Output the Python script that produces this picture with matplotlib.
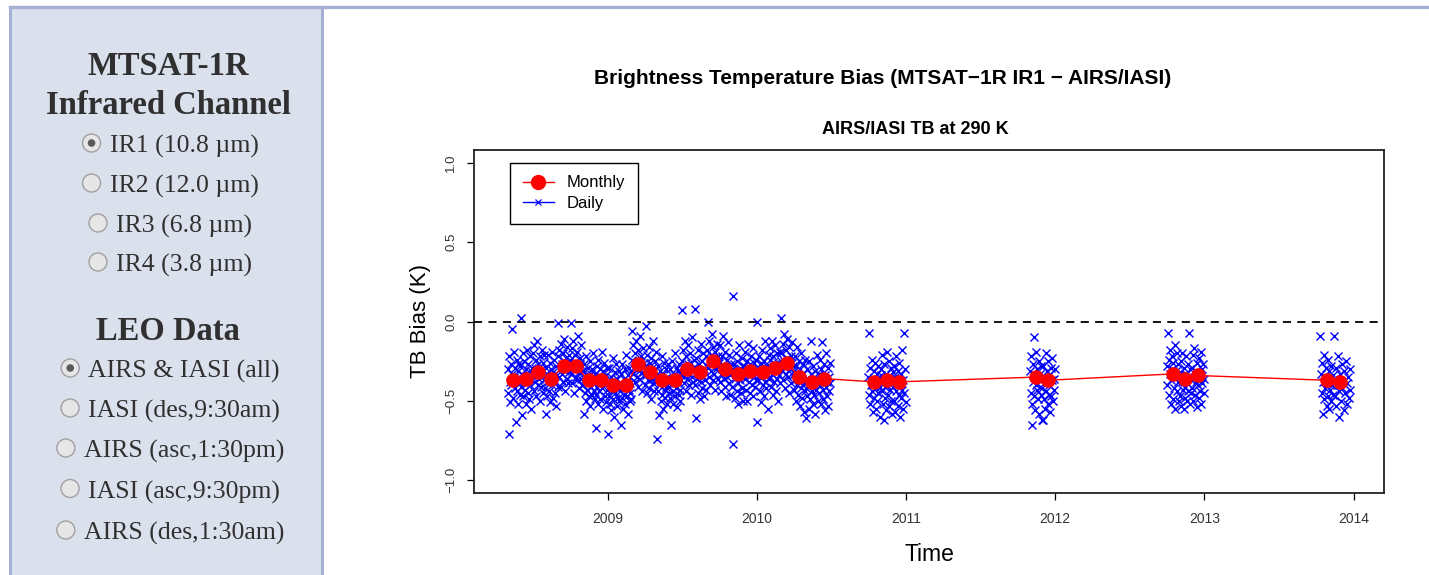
import numpy as np
import pandas as pd
import matplotlib
matplotlib.use('Agg')
import matplotlib.pyplot as plt
import matplotlib.dates as mdates
from matplotlib.lines import Line2D
from matplotlib.patches import Circle, Rectangle

# ---------------- data ----------------
# monthly mean TB bias (K)
monthly_bias = [-0.37, -0.36, -0.32, -0.36, -0.28, -0.28, -0.37, -0.37, -0.40, -0.40,
                -0.27, -0.32, -0.37, -0.37, -0.30, -0.32, -0.25, -0.30, -0.33, -0.31,
                -0.32, -0.29, -0.26, -0.35, -0.38, -0.36,
                -0.38, -0.37, -0.38, -0.35, -0.37, -0.33, -0.36, -0.34, -0.37, -0.38]
monthly_dates = (list(pd.date_range('2008-05-01', '2010-06-01', freq='MS') + pd.Timedelta(days=14))
                 + list(pd.to_datetime(['2010-10-15', '2010-11-15', '2010-12-15', '2011-11-15',
                                        '2011-12-15', '2012-10-15', '2012-11-15', '2012-12-15',
                                        '2013-10-27', '2013-11-29'])))

# daily data, one block per month (start/end date), values in 0.01 K
block_start = (list(pd.date_range('2008-05-01', '2010-06-01', freq='MS'))
               + list(pd.to_datetime(['2010-10-01', '2010-11-01', '2010-12-01', '2011-11-01',
                                      '2011-12-01', '2012-10-01', '2012-11-01', '2012-12-01',
                                      '2013-10-12', '2013-11-13'])))
block_end = (list(pd.date_range('2008-05-31', '2010-06-30', freq='ME'))
             + list(pd.to_datetime(['2010-10-31', '2010-11-30', '2010-12-31', '2011-11-30',
                                    '2011-12-31', '2012-10-31', '2012-11-30', '2012-12-31',
                                    '2013-11-12', '2013-12-24'])))
daily_bias = [
    [-30, -45, -71, -22, -38, -51, -27, -40, -33, -5, -48, -35, -19, -42, -29, -63, -36, -24, -44, -31, -52, -26, -39, -46],
    [-28, 2, -41, -59, -33, -20, -47, -37, -25, -43, -30, -52, -18, -39, -45, -27, -34, -49, -22, -40, -31, -55, -36, -29],
    [-20, -35, -44, -15, -29, -38, -24, -47, -31, -12, -40, -27, -36, -50, -22, -33, -41, -18, -30, -45, -26, -37, -21, -34],
    [-42, -29, -58, -33, -47, -21, -38, -44, -26, -51, -35, -30, -40, -19, -48, -32, -37, -24, -45, -39, -28, -53, -34, -41],
    [-1, -22, -35, -18, -30, -41, -14, -27, -33, -20, -38, -25, -11, -31, -44, -23, -29, -36, -16, -26, -39, -21, -32, -28],
    [-24, -1, -33, -17, -39, -28, -12, -30, -45, -21, -35, -26, -19, -37, -29, -9, -32, -42, -23, -27, -36, -15, -31, -40],
    [-40, -31, -58, -27, -45, -36, -50, -22, -38, -43, -29, -47, -34, -53, -25, -41, -33, -46, -30, -39, -20, -44, -35, -49],
    [-33, -46, -67, -28, -41, -52, -24, -38, -44, -30, -49, -35, -19, -42, -55, -31, -37, -26, -47, -40, -34, -51, -29, -43],
    [-71, -38, -47, -29, -52, -41, -35, -56, -44, -23, -49, -37, -60, -32, -45, -40, -27, -53, -36, -48, -42, -31, -50, -39],
    [-44, -33, -65, -48, -27, -40, -55, -36, -46, -30, -52, -41, -21, -47, -38, -58, -34, -43, -29, -50, -39, -45, -31, -49],
    [-6, -24, -33, -15, -29, -38, -20, -27, -12, -35, -30, -18, -41, -25, -31, -9, -36, -22, -28, -44, -17, -32, -26, -34],
    [-28, -40, -3, -34, -21, -45, -30, -37, -16, -42, -26, -33, -49, -23, -36, -29, -12, -39, -31, -44, -25, -35, -19, -38],
    [-74, -35, -44, -28, -59, -40, -31, -50, -37, -22, -46, -33, -55, -38, -26, -43, -48, -30, -41, -35, -52, -27, -39, -45],
    [-41, -30, -48, -65, -36, -25, -44, -52, -33, -39, -20, -47, -35, -42, -29, -54, -38, -31, -46, -27, -43, -50, -34, -37],
    [-25, 7, -34, -18, -39, -28, -12, -31, -44, -22, -36, -27, -15, -40, -30, -33, -20, -46, -26, -35, -10, -29, -38, -24],
    [-29, -40, 8, -61, -23, -36, -45, -18, -33, -27, -49, -31, -14, -38, -42, -25, -35, -20, -30, -47, -37, -22, -43, -28],
    [-18, 0, -29, -35, -12, -24, -40, -21, -31, -8, -27, -37, -16, -26, -33, -19, -43, -23, -30, -14, -28, -36, -22, -25],
    [-26, -38, -15, -33, -44, -22, -30, -9, -36, -28, -41, -19, -32, -47, -24, -35, -13, -29, -39, -21, -34, -46, -27, -31],
    [-30, -41, 16, -77, -27, -36, -48, -20, -33, -44, -25, -39, -52, -31, -15, -37, -29, -45, -34, -23, -42, -28, -50, -35],
    [-28, -36, -19, -43, -31, -25, -50, -33, -14, -38, -27, -45, -22, -34, -40, -30, -17, -47, -26, -35, -32, -41, -24, -37],
    [0, -63, -29, -37, -22, -44, -33, -26, -51, -35, -18, -40, -31, -47, -25, -38, -12, -34, -42, -28, -55, -30, -36, -21],
    [-24, -35, -17, -41, -29, -12, -33, -46, -22, -30, -38, -15, -27, -44, -31, -20, -36, -26, -50, -28, -34, -19, -39, -25],
    [-20, 2, -31, -14, -37, -25, -8, -29, -42, -18, -33, -23, -11, -35, -27, -45, -16, -30, -22, -39, -26, -13, -34, -28],
    [-31, -43, -22, -37, -50, -28, -40, -16, -35, -46, -25, -38, -53, -30, -42, -20, -36, -48, -27, -33, -57, -39, -24, -44],
    [-42, -61, -30, -47, -36, -55, -25, -40, -49, -33, -12, -44, -38, -52, -28, -46, -35, -58, -31, -43, -39, -21, -50, -37],
    [-33, -45, -24, -40, -52, -30, -37, -13, -43, -49, -27, -36, -56, -34, -41, -20, -47, -38, -29, -53, -35, -44, -26, -39],
    [-35, -46, -7, -29, -52, -40, -24, -44, -37, -57, -31, -48, -39, -26, -55, -42, -33, -50, -28, -45, -36, -60, -41, -34],
    [-30, -44, -21, -52, -38, -62, -27, -41, -48, -33, -56, -19, -40, -46, -35, -25, -53, -37, -43, -29, -50, -36, -58, -32],
    [-41, -28, -50, -35, -57, -22, -44, -38, -53, -31, -46, -26, -60, -39, -33, -48, -18, -43, -55, -37, -7, -45, -30, -51],
    [-31, -45, -22, -52, -65, -38, -27, -47, -10, -34, -56, -40, -19, -43, -30, -49, -36, -25, -58, -41, -33, -46, -28, -62],
    [-42, -62, -28, -49, -35, -55, -20, -44, -38, -31, -52, -25, -46, -40, -33, -57, -29, -47, -37, -23, -50, -36, -43, -30],
    [-28, -40, -7, -24, -46, -33, -18, -52, -37, -22, -30, -49, -26, -42, -35, -15, -55, -31, -44, -20, -38, -27, -50, -34],
    [-32, -47, -25, -53, -38, -20, -43, -36, -55, -29, -41, -48, -33, -22, -50, -39, -27, -44, -7, -35, -52, -30, -45, -37],
    [-29, -42, -21, -50, -35, -17, -46, -31, -38, -54, -26, -40, -33, -48, -23, -37, -44, -19, -52, -30, -39, -27, -45, -36],
    [-9, -33, -45, -26, -58, -38, -21, -49, -35, -42, -29, -53, -39, -24, -47, -31, -55, -36, -43, -28, -50, -40, -34, -46],
    [-36, -9, -47, -29, -53, -40, -22, -60, -44, -33, -50, -27, -42, -38, -56, -31, -45, -25, -52, -39, -35, -48, -30, -43],
]

channel_labels = ['IR1 (10.8 µm)', 'IR2 (12.0 µm)', 'IR3 (6.8 µm)', 'IR4 (3.8 µm)']
leo_labels = ['AIRS & IASI (all)', 'IASI (des,9:30am)', 'AIRS (asc,1:30pm)',
              'IASI (asc,9:30pm)', 'AIRS (des,1:30am)']

# ---------------- build daily series ----------------
daily_x, daily_y = [], []
for s, e, vals in zip(block_start, block_end, daily_bias):
    daily_x.extend(pd.date_range(s, e, periods=len(vals)))
    daily_y.extend(np.array(vals) / 100.0)

# ---------------- figure ----------------
fig = plt.figure(figsize=(14.29, 5.75), dpi=100)
W, H = 1429, 575

# page background / left panel (pixel coords)
bg = fig.add_axes([0, 0, 1, 1])
bg.set_xlim(0, W)
bg.set_ylim(H, 0)
bg.axis('off')
bg.add_patch(Rectangle((10, 7), 312, 580, facecolor='#dae0ec', edgecolor='#a4b0d4', lw=2.2))
bg.plot([10, W], [7, 7], color='#a4b0d4', lw=2.4)

serif = 'Liberation Serif'
txtc = '#303030'
for head, base in [('MTSAT-1R', 75), ('Infrared Channel', 113.5), ('LEO Data', 340)]:
    bg.text(168, base, head, ha='center', va='baseline', fontsize=23.5, fontweight='bold',
            family=serif, color=txtc)

fig.canvas.draw()
renderer = fig.canvas.get_renderer()


def radio(label, base_y, selected):
    t = bg.text(184, base_y, label, ha='center', va='baseline', fontsize=18.5,
                family=serif, color=txtc)
    x0 = t.get_window_extent(renderer).x0
    cx, cy = x0 - 18, base_y - 10
    bg.add_patch(Circle((cx, cy), 9, facecolor='#e6e6e6', edgecolor='#a0a0a0', lw=1.0))
    if selected:
        bg.add_patch(Circle((cx, cy), 3.8, facecolor='#5a5a5a', edgecolor='none'))


for i, (lab, by) in enumerate(zip(channel_labels, [153, 193, 233, 272])):
    radio(lab, by, i == 0)
for i, (lab, by) in enumerate(zip(leo_labels, [378, 418, 458, 498.5, 540])):
    radio(lab, by, i == 0)

# ---------------- chart ----------------
sans = 'Liberation Sans'
ax = fig.add_axes([474 / W, (H - 493) / H, (1384 - 474) / W, (493 - 150) / H])

ax.plot(daily_x, daily_y, linestyle='none', marker='x', color='#0000ff',
        markersize=6, markeredgewidth=1.0, zorder=2)
ax.plot(monthly_dates, monthly_bias, color='#ff0000', lw=1.0, marker='o',
        markersize=9.5, zorder=3)
ax.axhline(0, color='black', lw=1.3, linestyle=(0, (4.5, 3.5)), zorder=4)

xnum = mdates.date2num(daily_x)
pad = 0.04 * (xnum.max() - xnum.min())
ax.set_xlim(xnum.min() - pad, xnum.max() + pad)
ax.set_ylim(-1.08, 1.08)

ax.xaxis.set_major_locator(mdates.YearLocator())
ax.xaxis.set_major_formatter(mdates.DateFormatter('%Y'))
ax.set_yticks([-1.0, -0.5, 0.0, 0.5, 1.0])
ax.set_yticklabels(['\u22121.0', '\u22120.5', '0.0', '0.5', '1.0'])

ax.tick_params(axis='both', direction='out', length=5, width=0.9, color='black')
ax.tick_params(axis='x', labelsize=10, pad=9, labelcolor='#333333')
ax.tick_params(axis='y', labelsize=9.5, pad=7, labelrotation=90, labelcolor='#333333')
for lbl in ax.get_yticklabels():
    lbl.set_va('center')
    lbl.set_family(sans)
for lbl in ax.get_xticklabels():
    lbl.set_family(sans)
for sp in ax.spines.values():
    sp.set_linewidth(1.3)
    sp.set_color('#222222')

ax.set_ylabel('TB Bias (K)', fontsize=16, family=sans, labelpad=10)
ax.set_xlabel('Time', fontsize=16.5, family=sans, labelpad=12)

handles = [Line2D([], [], color='#ff0000', lw=1.0, marker='o', markersize=10),
           Line2D([], [], color='#0000ff', lw=1.0, marker='x', markersize=5, markeredgewidth=0.9)]
leg = ax.legend(handles, ['Monthly', 'Daily'], loc='upper left',
                bbox_to_anchor=(36 / 910, (493 - 163) / 343), borderaxespad=0,
                fancybox=False, framealpha=1, edgecolor='black', handlelength=1.9,
                handletextpad=0.75, labelspacing=0.35, borderpad=0.75,
                prop={'family': sans, 'size': 12})
leg.get_frame().set_linewidth(1.0)

fig.text(883 / W, 1 - 83.5 / H, 'Brightness Temperature Bias (MTSAT\u22121R IR1 \u2212 AIRS/IASI)',
         ha='center', va='baseline', fontsize=15, fontweight='bold', family=sans)
fig.text(915 / W, 1 - 133.5 / H, 'AIRS/IASI TB at 290 K', ha='center', va='baseline',
         fontsize=13, fontweight='bold', family=sans)

fig.savefig('out.png', dpi=100)
